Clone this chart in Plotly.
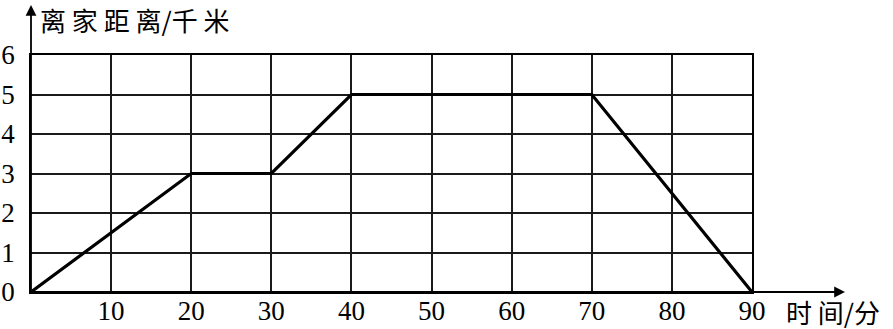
import plotly.graph_objects as go

# Data
times = [0, 20, 30, 40, 70, 90]          # 分
distance = [0, 3, 3, 5, 5, 0]           # 千米
x_ticks = [10, 20, 30, 40, 50, 60, 70, 80, 90]
y_ticks = [0, 1, 2, 3, 4, 5, 6]
y_title = "离 家 距 离/千 米"
x_title = "时 间/分"

W, H = 893, 329
L, R, T, B = 31, 141, 55, 37
PW, PH = W - L - R, H - T - B

num_font = dict(family="Liberation Serif", size=27, color="black")
cjk_font = dict(family="Noto Sans CJK SC", size=26, color="black")


def px(xp):
    return (xp - L) / PW


def py(yp):
    return 1 - (yp - T) / PH


fig = go.Figure()
fig.add_trace(go.Scatter(
    x=times, y=distance, mode="lines",
    line=dict(color="black", width=3.2),
    hoverinfo="skip", cliponaxis=False,
))

fig.update_layout(
    width=W, height=H,
    margin=dict(l=L, r=R, t=T, b=B, pad=0, autoexpand=False),
    paper_bgcolor="white", plot_bgcolor="white",
    showlegend=False,
    xaxis=dict(
        range=[0, 90], tickvals=x_ticks, ticktext=[str(v) for v in x_ticks],
        showgrid=True, gridcolor="#1a1a1a", gridwidth=1.5,
        showline=True, linecolor="black", linewidth=1.8, mirror=True,
        zeroline=False, ticks="", tickfont=num_font, ticklabelstandoff=-6,
        automargin=False, fixedrange=True,
    ),
    yaxis=dict(
        range=[0, 6], tickvals=y_ticks, ticktext=[str(v) for v in y_ticks],
        showgrid=True, gridcolor="#1a1a1a", gridwidth=1.5,
        showline=True, linecolor="black", linewidth=1.8, mirror=True,
        zeroline=False, ticks="", tickfont=num_font, ticklabelstandoff=9,
        automargin=False, fixedrange=True,
    ),
)

# axis arrows
x_tip = 90 + (845 - (W - R)) / (PW / 90)
y_tip = 6 + (T - 5) / (PH / 6)
fig.add_annotation(x=x_tip, y=0, ax=0, ay=0, xref="x", yref="y", axref="x", ayref="y",
                   showarrow=True, arrowhead=2, arrowsize=1.2, arrowwidth=1.8,
                   arrowcolor="black", text="")
fig.add_annotation(x=0, y=y_tip, ax=0, ay=0, xref="x", yref="y", axref="x", ayref="y",
                   showarrow=True, arrowhead=2, arrowsize=1.2, arrowwidth=1.8,
                   arrowcolor="black", text="")

# axis titles
fig.add_annotation(x=px(38), y=py(19), xref="paper", yref="paper",
                   xanchor="left", yanchor="middle", text=y_title,
                   showarrow=False, font=cjk_font)
fig.add_annotation(x=px(784), y=py(311), xref="paper", yref="paper",
                   xanchor="left", yanchor="middle", text=x_title,
                   showarrow=False, font=cjk_font)

fig.write_html("out.html")
